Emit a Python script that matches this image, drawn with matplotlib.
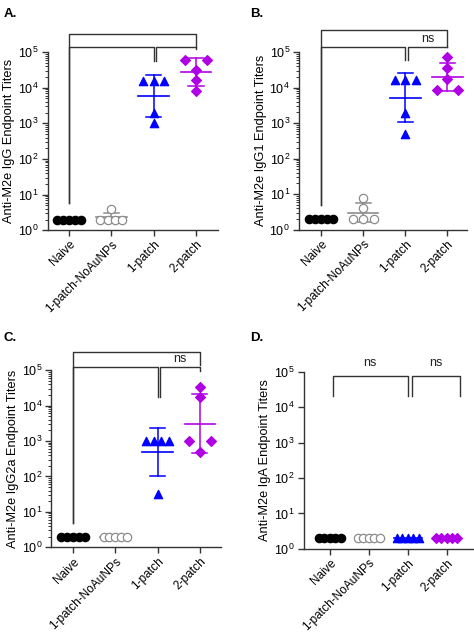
import numpy as np
import matplotlib
matplotlib.use("Agg")
import matplotlib.pyplot as plt
import matplotlib.ticker as mticker

plt.rcParams["font.family"] = ["Liberation Sans", "DejaVu Sans"]
plt.rcParams["mathtext.fontset"] = "custom"
plt.rcParams["mathtext.rm"] = "Liberation Sans"
plt.rcParams["mathtext.it"] = "Liberation Sans:italic"
plt.rcParams["mathtext.default"] = "regular"

# --- Data (endpoint titers) ---
groups = ["Naive", "1-patch-NoAuNPs", "1-patch", "2-patch"]

igg_naive = [2, 2, 2, 2, 2]
igg_noau = [2, 2, 2, 2, 4]
igg_1p = [15500, 15500, 15500, 1900, 1000]
igg_2p = [62000, 62000, 32000, 16000, 8100]

igg1_naive = [2, 2, 2, 2, 2]
igg1_noau = [2, 2, 2, 4, 8]
igg1_1p = [16000, 16000, 16000, 1950, 510]
igg1_2p = [71000, 35500, 17500, 8500, 8500]

igg2a_naive = [2, 2, 2, 2, 2]
igg2a_noau = [2, 2, 2, 2, 2]
igg2a_1p = [1000, 1000, 1000, 1000, 31]
igg2a_2p = [34000, 17000, 1000, 1000, 500]

iga_naive = [2, 2, 2, 2, 2]
iga_noau = [2, 2, 2, 2, 2]
iga_1p = [2, 2, 2, 2, 2]
iga_2p = [2, 2, 2, 2, 2]

# --- Styles ---
colors = ["black", "#8c8c8c", "#0000ff", "#b000e6"]
markers = ["o", "o", "^", "D"]
filled = [True, False, True, True]
msize = [6, 6, 6, 5]

# brackets: (x1, x2, log10 top, log10 left bottom, log10 right bottom, label, log10 label)
panels = [
    dict(tag="A.", ylabel="Anti-M2e IgG Endpoint Titers",
         data=[igg_naive, igg_noau, igg_1p, igg_2p],
         rect=[0.101, 0.638, 0.359, 0.280], xlim=(-0.5, 3.52), minor=True,
         brackets=[(0, 3, 5.51, 0.76, 5.14, "", 0),
                   (0, 2, 5.14, 0.76, 4.75, "", 0),
                   (2.05, 3, 5.14, 4.75, 5.10, "", 0)],
         tagpos=(0.008, 0.987)),
    dict(tag="B.", ylabel="Anti-M2e IgG1 Endpoint Titers",
         data=[igg1_naive, igg1_noau, igg1_1p, igg1_2p],
         rect=[0.631, 0.639, 0.354, 0.279], xlim=(-0.52, 3.46), minor=True,
         brackets=[(0, 3, 5.63, 0.69, 5.15, "", 0),
                   (0, 2, 5.15, 0.69, 4.78, "", 0),
                   (2.07, 3, 5.15, 4.78, 5.15, "ns", 5.38)],
         tagpos=(0.527, 0.987)),
    dict(tag="C.", ylabel="Anti-M2e IgG2a Endpoint Titers",
         data=[igg2a_naive, igg2a_noau, igg2a_1p, igg2a_2p],
         rect=[0.108, 0.1395, 0.358, 0.2785], xlim=(-0.52, 3.5), minor=True,
         brackets=[(0, 3, 5.50, 0.68, 5.14, "", 0),
                   (0, 2, 5.085, 0.68, 4.25, "", 0),
                   (2.06, 3, 5.085, 4.25, 4.98, "ns", 5.31)],
         tagpos=(0.008, 0.478)),
    dict(tag="D.", ylabel="Anti-M2e IgA Endpoint Titers",
         data=[iga_naive, iga_noau, iga_1p, iga_2p],
         rect=[0.641, 0.137, 0.357, 0.2786], xlim=(-0.67, 3.68), minor=False,
         brackets=[(0.077, 2.0, 4.88, 4.32, 4.32, "ns", 5.25),
                   (2.11, 3.35, 4.88, 4.32, 4.32, "ns", 5.25)],
         tagpos=(0.527, 0.478)),
]

gaps = {1: 0, 2: 0.52, 3: 0.25, 4: 0.175, 5: 0.14}


def spread(values):
    """Horizontal offsets so that equal values sit side by side."""
    logs = np.round(np.log10(values), 2)
    offs = np.zeros(len(values))
    for v in np.unique(logs):
        idx = np.where(np.abs(logs - v) < 0.05)[0]
        n = len(idx)
        offs[idx] = (np.arange(n) - (n - 1) / 2) * gaps.get(n, 0.14)
    return offs


fig = plt.figure(figsize=(4.74, 6.36), dpi=100)

for p in panels:
    ax = fig.add_axes(p["rect"])
    ax.set_yscale("log")
    ax.set_ylim(1, 1e5)
    ax.set_xlim(*p["xlim"])

    for i, vals in enumerate(p["data"]):
        vals = np.array(vals, dtype=float)
        lg = np.log10(vals)
        gm = 10 ** lg.mean()
        sd = lg.std(ddof=1)
        c = colors[i]
        # geometric mean line and geometric SD bars
        ax.plot([i - 0.36, i + 0.36], [gm, gm], color=c, lw=1.2, zorder=2)
        if sd > 0.01:
            lo, hi = 10 ** (lg.mean() - sd), 10 ** (lg.mean() + sd)
            ax.plot([i, i], [lo, hi], color=c, lw=1.1, zorder=2)
            ax.plot([i - 0.18, i + 0.18], [lo, lo], color=c, lw=1.1, zorder=2)
            ax.plot([i - 0.18, i + 0.18], [hi, hi], color=c, lw=1.1, zorder=2)
        xs = i + spread(vals)
        ax.scatter(xs, vals, marker=markers[i], s=msize[i] ** 2,
                   facecolors=c if filled[i] else "white",
                   edgecolors=c, linewidths=0.9, zorder=3)

    for x1, x2, top, lb, rb, lab, ly in p["brackets"]:
        ax.plot([x1, x1, x2, x2], [10 ** lb, 10 ** top, 10 ** top, 10 ** rb],
                color="#333333", lw=1.0, clip_on=False, zorder=1)
        if lab:
            ax.text((x1 + x2) / 2, 10 ** ly, lab, ha="center", va="center",
                    fontsize=9, color="#222222")

    for s in ["top", "right"]:
        ax.spines[s].set_visible(False)
    for s in ["left", "bottom"]:
        ax.spines[s].set_color("#333333")
        ax.spines[s].set_linewidth(1.0)

    ax.set_xticks(range(len(groups)))
    ax.set_xticklabels(groups, rotation=45, ha="right", rotation_mode="anchor",
                       fontsize=8.6)
    ax.yaxis.set_major_locator(mticker.LogLocator(base=10, numticks=10))
    if p["minor"]:
        ax.yaxis.set_minor_locator(mticker.LogLocator(base=10, subs=np.arange(2, 10), numticks=10))
    else:
        ax.yaxis.set_minor_locator(mticker.NullLocator())
    ax.yaxis.set_minor_formatter(mticker.NullFormatter())
    ax.tick_params(axis="both", which="major", length=4.5, width=1.0,
                   color="#333333", labelsize=9, pad=2)
    ax.tick_params(axis="x", which="major", labelsize=8.6, pad=1.5)
    ax.tick_params(axis="y", which="minor", length=2.5, width=0.7, color="#333333")
    ax.set_ylabel(p["ylabel"], fontsize=9.2, labelpad=2)
    fig.text(p["tagpos"][0], p["tagpos"][1], p["tag"], fontsize=9.5,
             fontweight="bold", va="top", ha="left")

fig.savefig("out.png", dpi=100)
